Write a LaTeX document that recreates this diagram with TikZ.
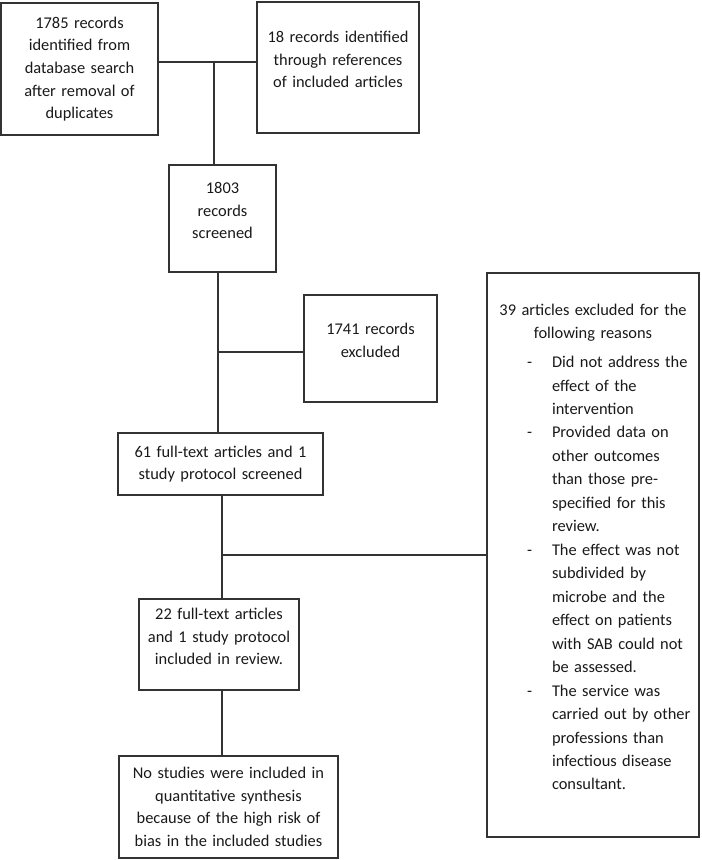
\documentclass[tikz,border=0pt]{standalone}
\usepackage{fontspec}
\setmainfont{Carlito}
\setlength{\parindent}{0pt}
\newlength{\px}
\setlength{\px}{0.75pt}
\newcommand{\exdash}{\hspace*{40\px}\makebox[25\px][l]{-}}
\newcommand{\exind}{\hspace*{65\px}}
\tikzset{
  box/.style={draw=black!80, line width=0.8pt, inner sep=0pt, align=center,
    text=black!90, font=\fontsize{12.3}{17}\selectfont},
  padbot/.style={execute at end node={\par\vspace*{12pt}}},
  link/.style={draw=black!80, line width=0.8pt}
}
\begin{document}
\begin{tikzpicture}[x=0.75pt,y=-0.75pt]
\useasboundingbox (0,0) rectangle (701,860);
\node[box, minimum width=157\px, minimum height=132\px, text width=150\px] (db) at (79.5,69)
  {1785 records\\identified from\\database search\\after removal of\\duplicates};
\node[box, padbot, minimum width=162\px, minimum height=131\px, text width=155\px] (refs) at (338,67.5)
  {18 records identified\\through references\\of included articles};
\node[box, padbot, minimum width=107\px, minimum height=107\px, text width=100\px] (screen) at (222.5,218.5)
  {1803\\records\\screened};
\node[box, padbot, minimum width=133\px, minimum height=107\px, text width=126\px] (recex) at (370.5,348.5)
  {1741 records\\excluded};
\node[box, minimum width=205\px, minimum height=62\px, text width=198\px] (full) at (220.5,464)
  {61 full-text articles and 1\\study protocol screened};
\node[box, padbot, minimum width=160\px, minimum height=91\px, text width=153\px] (incl) at (219,644.5)
  {22 full-text articles\\and 1 study protocol\\included in review.};
\node[box, minimum width=219\px, minimum height=102\px, text width=212\px] (quant) at (228.5,807)
  {No studies were included in\\quantitative synthesis\\because of the high risk of\\bias in the included studies};
\node[box, padbot, align=left, minimum width=212\px, minimum height=564\px, text width=212\px,
  font=\fontsize{12.3}{17.6}\selectfont] (artex) at (593,555)
  {\centering 39 articles excluded for the\\following reasons\par\vspace{4pt}
   \raggedright
   \exdash Did not address the\\
   \exind effect of the\\
   \exind intervention\\
   \exdash Provided data on\\
   \exind other outcomes\\
   \exind than those pre-\\
   \exind specified for this\\
   \exind review.\\
   \exdash The effect was not\\
   \exind subdivided by\\
   \exind microbe and the\\
   \exind effect on patients\\
   \exind with SAB could not\\
   \exind be assessed.\\
   \exdash The service was\\
   \exind carried out by other\\
   \exind professions than\\
   \exind infectious disease\\
   \exind consultant.\par};
% joins
\coordinate (j1) at (214,62);
\coordinate (j2) at (218,352);
\coordinate (j3) at (222,555);
\draw[link] (j1 -| db.east) -- (j1 -| refs.west);
\draw[link] (j1) -- (j1 |- screen.north);
\draw[link] (j2 |- screen.south) -- (j2 |- full.north);
\draw[link] (j2) -- (j2 -| recex.west);
\draw[link] (j3 |- full.south) -- (j3 |- incl.north);
\draw[link] (j3) -- (j3 -| artex.west);
\draw[link] (j3 |- incl.south) -- (j3 |- quant.north);
\end{tikzpicture}
\end{document}
